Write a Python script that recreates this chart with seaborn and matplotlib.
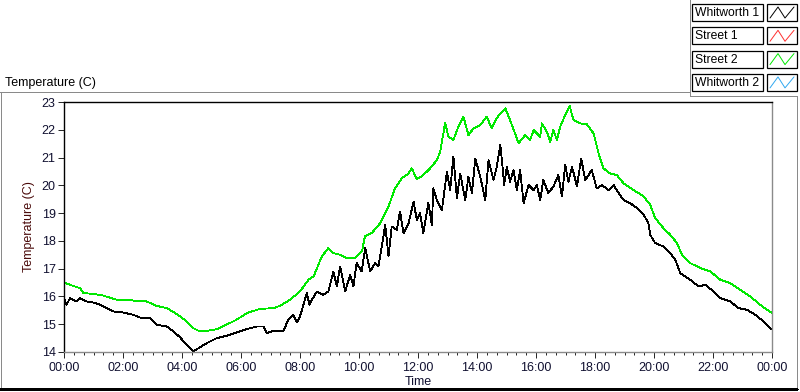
import numpy as np
import pandas as pd
import matplotlib
matplotlib.use("Agg")
import matplotlib.pyplot as plt
from matplotlib.lines import Line2D
from matplotlib.patches import Rectangle
import seaborn as sns

# ---------------- data ----------------
series_names = ["Whitworth 1", "Street 1", "Street 2", "Whitworth 2"]
series_colors = ["#000000", "#ff3030", "#00e800", "#30a8f0"]

whit1_hours = [0.0, 0.09, 0.2, 0.43, 0.54, 0.77, 1.0, 1.22, 1.45, 1.67, 2.01, 2.35, 2.58, 2.92,
               3.14, 3.48, 3.71, 3.93, 4.16, 4.38, 4.61, 4.84, 5.18, 5.5, 5.85, 6.19, 6.53, 6.76,
               6.87, 7.1, 7.44, 7.6, 7.77, 7.89, 8.0, 8.23, 8.32, 8.34, 8.57, 8.79, 8.96, 9.02,
               9.13, 9.25, 9.36, 9.53, 9.7, 9.81, 9.92, 10.09, 10.21, 10.38, 10.55, 10.66, 10.77,
               10.89, 11.0, 11.11, 11.28, 11.39, 11.51, 11.68, 11.85, 11.96, 12.07, 12.18, 12.35,
               12.47, 12.52, 12.64, 12.81, 12.98, 13.09, 13.2, 13.32, 13.43, 13.6, 13.71, 13.83,
               13.94, 14.11, 14.28, 14.39, 14.56, 14.67, 14.79, 14.85, 14.92, 15.01, 15.12, 15.24,
               15.35, 15.46, 15.58, 15.75, 15.92, 16.03, 16.14, 16.25, 16.42, 16.59, 16.76, 16.88,
               16.99, 17.10, 17.22, 17.39, 17.53, 17.67, 17.78, 17.89, 18.06, 18.23, 18.46, 18.63,
               18.8, 18.97, 19.19, 19.42, 19.65, 19.81, 19.87, 20.04, 20.32, 20.55, 20.72, 20.89,
               21.23, 21.51, 21.74, 22.02, 22.25, 22.58, 22.87, 23.15, 23.43, 23.72, 23.97]
whit1_temp = [15.94, 15.70, 15.94, 15.82, 15.94, 15.82, 15.78, 15.70, 15.58, 15.46, 15.42, 15.34,
              15.24, 15.22, 14.98, 14.92, 14.74, 14.53, 14.26, 14.02, 14.17, 14.32, 14.50, 14.58,
              14.70, 14.82, 14.92, 14.92, 14.68, 14.76, 14.76, 15.16, 15.34, 15.06, 15.28, 16.12,
              15.70, 15.76, 16.18, 16.06, 16.18, 16.42, 16.9, 16.36, 17.08, 16.18, 16.78, 16.36,
              17.2, 16.9, 17.74, 16.9, 17.2, 17.08, 17.8, 18.58, 17.44, 18.52, 18.4, 19.06, 18.28,
              18.64, 19.41, 18.76, 19.0, 18.28, 19.36, 18.58, 19.89, 19.47, 19.11, 20.49, 19.83,
              21.03, 19.53, 20.43, 19.47, 20.31, 19.71, 20.97, 20.31, 19.47, 20.91, 20.19, 20.67,
              21.45, 20.85, 20.01, 20.67, 20.13, 20.55, 19.83, 20.55, 19.36, 20.01, 19.83, 20.01,
              19.47, 20.19, 19.72, 19.96, 20.37, 19.60, 20.73, 20.13, 20.67, 19.96, 20.97, 20.19,
              20.37, 20.55, 19.89, 20.01, 19.83, 20.01, 19.72, 19.47, 19.36, 19.18, 18.94, 18.64,
              18.22, 17.92, 17.80, 17.56, 17.32, 16.84, 16.60, 16.36, 16.42, 16.18, 15.94, 15.82,
              15.58, 15.52, 15.34, 15.10, 14.83]

street2_hours = [0.0, 0.2, 0.54, 0.66, 1.0, 1.33, 1.79, 2.1, 2.46, 2.8, 3.14, 3.48, 3.82, 4.16,
                 4.38, 4.61, 4.84, 5.18, 5.5, 5.85, 6.19, 6.64, 7.1, 7.32, 7.66, 8.0, 8.3, 8.46,
                 8.74, 8.96, 9.13, 9.36, 9.59, 9.87, 10.1, 10.2, 10.43, 10.72, 11.0, 11.22, 11.45,
                 11.68, 11.79, 11.96, 12.18, 12.41, 12.64, 12.75, 12.86, 12.92, 13.03, 13.2, 13.37,
                 13.54, 13.71, 13.88, 14.11, 14.33, 14.5, 14.67, 14.79, 14.96, 15.12, 15.29, 15.41,
                 15.63, 15.80, 15.92, 16.14, 16.2, 16.37, 16.48, 16.59, 16.71, 16.82, 16.99, 17.14,
                 17.27, 17.5, 17.72, 17.95, 18.12, 18.29, 18.51, 18.74, 18.97, 19.31, 19.65, 19.87,
                 20.04, 20.32, 20.55, 20.78, 20.95, 21.23, 21.57, 21.91, 22.25, 22.58, 22.92,
                 23.26, 23.6, 23.83, 24.0]
street2_temp = [16.50, 16.42, 16.30, 16.12, 16.09, 16.03, 15.88, 15.88, 15.84, 15.82, 15.66,
                15.58, 15.37, 15.10, 14.86, 14.74, 14.76, 14.82, 14.98, 15.16, 15.40, 15.55, 15.58,
                15.66, 15.88, 16.18, 16.62, 16.72, 17.44, 17.74, 17.56, 17.50, 17.38, 17.38, 17.62,
                18.16, 18.28, 18.64, 19.24, 19.89, 20.25, 20.43, 20.61, 20.22, 20.37, 20.61, 20.91,
                21.21, 21.87, 22.26, 21.75, 21.63, 22.11, 22.47, 21.81, 22.05, 22.17, 22.47, 22.05,
                22.41, 22.59, 22.77, 22.35, 21.87, 21.51, 21.81, 21.63, 21.99, 21.75, 22.23, 21.93,
                21.57, 21.99, 21.63, 22.11, 22.53, 22.86, 22.35, 22.23, 22.20, 21.87, 21.15, 20.61,
                20.43, 20.37, 20.07, 19.83, 19.60, 19.30, 18.82, 18.46, 18.22, 17.92, 17.50, 17.20,
                17.02, 16.90, 16.60, 16.48, 16.24, 16.00, 15.70, 15.52, 15.40]

x_tick_hours = [0, 2, 4, 6, 8, 10, 12, 14, 16, 18, 20, 22, 24]
x_tick_labels = ["00:00", "02:00", "04:00", "06:00", "08:00", "10:00", "12:00",
                 "14:00", "16:00", "18:00", "20:00", "22:00", "00:00"]
y_ticks = [14, 15, 16, 17, 18, 19, 20, 21, 22, 23]

df = pd.concat([
    pd.DataFrame({"Time": whit1_hours, "Temperature": whit1_temp, "Series": "Whitworth 1"}),
    pd.DataFrame({"Time": street2_hours, "Temperature": street2_temp, "Series": "Street 2"}),
], ignore_index=True)

# ---------------- figure ----------------
sns.set_theme(style="white")
plt.rcParams["font.family"] = ["Liberation Sans", "DejaVu Sans"]

W, H = 800, 392
fig = plt.figure(figsize=(W / 100, H / 100), dpi=100)
fig.patch.set_facecolor("white")

def fx(px):
    return px / W

def fy(py):
    return 1 - py / H

ax_l, ax_r, ax_t, ax_b = 64, 772, 102, 352
ax = fig.add_axes([fx(ax_l), fy(ax_b), fx(ax_r - ax_l), (ax_b - ax_t) / H])
ax.set_facecolor("white")

palette = {n: c for n, c in zip(series_names, series_colors)}
sns.lineplot(data=df, x="Time", y="Temperature", hue="Series", palette=palette,
             estimator=None, sort=True, legend=False, ax=ax, linewidth=0.6,
             antialiased=False)

ax.set_xlim(0, 24)
ax.set_ylim(14, 23)
ax.set_xticks(x_tick_hours)
ax.set_xticklabels(x_tick_labels)
ax.set_xticks(np.arange(0, 24.01, 1 / 3), minor=True)
ax.set_yticks(y_ticks)
ax.set_yticklabels([str(v) for v in y_ticks])

ax.tick_params(axis="x", which="major", direction="out", length=4.5, width=0.6,
               color="black", labelsize=9, pad=3, bottom=True, labelcolor="#101030")
ax.tick_params(axis="x", which="minor", direction="out", length=2.5, width=0.6,
               color="black", bottom=True)
ax.tick_params(axis="y", which="major", direction="out", length=4, width=0.6,
               color="black", labelsize=9, pad=2, left=True, labelcolor="#101030")

for side in ["top", "left"]:
    ax.spines[side].set_color("black")
    ax.spines[side].set_linewidth(1.0)
for side in ["bottom", "right"]:
    ax.spines[side].set_color("#8a8a8a")
    ax.spines[side].set_linewidth(1.0)

ax.set_xlabel("Time", fontsize=9, labelpad=1, color="#101030")
ax.set_ylabel("Temperature (C)", fontsize=9, labelpad=5, color="#4a0a0a")
ax.grid(False)

# plot title at top-left
fig.text(fx(5), fy(83), "Temperature (C)", fontsize=9, ha="left", va="center", color="black")

# frame lines of the graph control
def fline(x0, y0, x1, y1, color, lw=0.6):
    fig.add_artist(Line2D([fx(x0), fx(x1)], [fy(y0), fy(y1)], color=color, lw=lw,
                          transform=fig.transFigure, antialiased=False))

fline(0, 92, 690, 92, "#8a8a8a")
fline(690, 0, 690, 96, "#8a8a8a")
fline(690, 96, 797, 96, "#8a8a8a")
fline(797, 96, 797, 389, "#8a8a8a")
fline(1, 92, 1, 389, "#8a8a8a")
fline(0, 389, 797, 389, "black", 0.9)

# legend (plot legend of the graph control)
row_top0 = 4
row_step = 23.3
row_h = 17
for i, (name, col) in enumerate(zip(series_names, series_colors)):
    top = row_top0 + i * row_step
    bot = top + row_h
    fig.add_artist(Rectangle((fx(692), fy(bot)), fx(763 - 692), row_h / H, fill=True,
                             facecolor="white", edgecolor="black", lw=0.9,
                             transform=fig.transFigure))
    fig.add_artist(Rectangle((fx(767), fy(bot)), fx(797 - 767), row_h / H, fill=True,
                             facecolor="white", edgecolor="black", lw=0.9,
                             transform=fig.transFigure))
    fig.text(fx(695), fy((top + bot) / 2 + 0.5), name, fontsize=8.7, ha="left",
             va="center", color="black")
    zx = [770, 778, 785, 794]
    zy = [bot - 3, top + 3, bot - 3, top + 3]
    fig.add_artist(Line2D([fx(v) for v in zx], [fy(v) for v in zy], color=col, lw=0.7,
                          transform=fig.transFigure))

fig.savefig("out.png", dpi=100, facecolor="white")
